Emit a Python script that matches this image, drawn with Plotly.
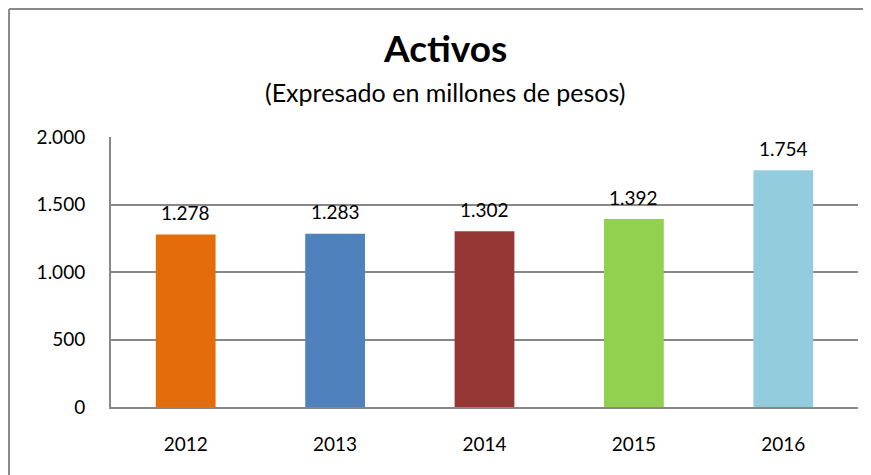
import plotly.graph_objects as go

years = ["2012", "2013", "2014", "2015", "2016"]
values = [1278, 1283, 1302, 1392, 1754]
colors = ["#E46C0A", "#4F81BD", "#953735", "#92D050", "#93CDDD"]
tick_vals = [0, 500, 1000, 1500, 2000]
title_text = "Activos"
subtitle_text = "(Expresado en millones de pesos)"

FONT = "Lato"
GRID = "#888888"

fig = go.Figure()
fig.add_trace(go.Bar(
    x=years, y=values, marker=dict(color=colors, line=dict(width=0)),
    width=0.4, hoverinfo="skip",
))

# value labels: x given as category index (numeric-looking category names
# would otherwise be read as indices by the annotation code)
for i, v in enumerate(values):
    fig.add_annotation(
        x=i, y=v, text=f"{v:,}".replace(",", "."), showarrow=False,
        yanchor="middle", yshift=22, font=dict(family=FONT, size=19, color="#000000"),
    )

fig.add_annotation(
    xref="paper", yref="paper", x=0.447, y=1.333, text=f"<b>{title_text}</b>",
    showarrow=False, xanchor="center", yanchor="middle",
    font=dict(family=FONT, size=37, color="#000000"),
)
fig.add_annotation(
    xref="paper", yref="paper", x=0.447, y=1.167, text=subtitle_text,
    showarrow=False, xanchor="center", yanchor="middle",
    font=dict(family=FONT, size=25, color="#000000"),
)

# outer border (top and left edges)
fig.add_shape(type="line", xref="paper", yref="paper", x0=-0.1365, x1=1.03, y0=1.474, y1=1.474,
              line=dict(color=GRID, width=2))
fig.add_shape(type="line", xref="paper", yref="paper", x0=-0.1365, x1=-0.1365, y0=1.474, y1=-0.3,
              line=dict(color=GRID, width=2))

# page body has an 8px margin, so the figure is sized and offset to compensate
fig.update_layout(
    width=863, height=467,
    margin=dict(l=103, r=13, t=129, b=68),
    paper_bgcolor="white", plot_bgcolor="white",
    showlegend=False,
    separators=",.",
    font=dict(family=FONT, size=19, color="#000000"),
    xaxis=dict(
        type="category", categoryorder="array", categoryarray=years,
        range=[-0.5, len(years) - 0.5],
        showline=True, linecolor=GRID, linewidth=2, showgrid=False,
        ticks="", ticklabelstandoff=19, tickfont=dict(family=FONT, size=19),
        fixedrange=True,
    ),
    yaxis=dict(
        range=[0, 2000], tickvals=tick_vals, tickformat=",d",
        showgrid=True, gridcolor=GRID, gridwidth=2,
        showline=True, linecolor=GRID, linewidth=2, zeroline=False,
        ticks="", ticklabelstandoff=20, tickfont=dict(family=FONT, size=19),
        fixedrange=True,
    ),
)

fig.write_html("out.html")
